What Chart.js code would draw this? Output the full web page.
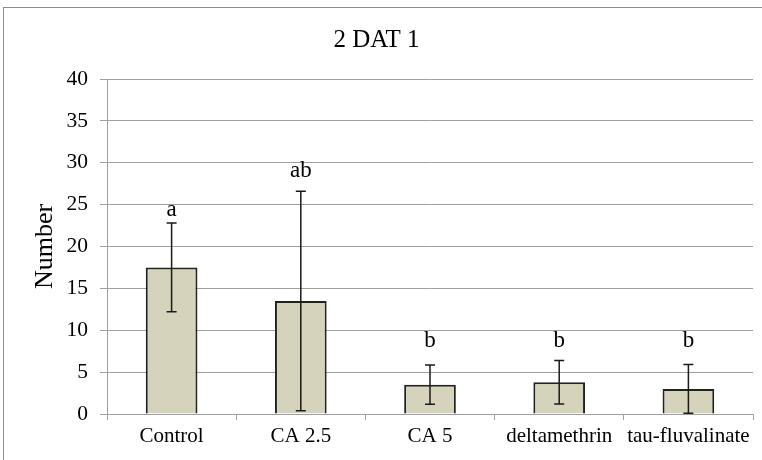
<!DOCTYPE html>
<html>
<head>
<meta charset="utf-8">
<script src="https://cdn.jsdelivr.net/npm/chart.js@4"></script>
<style>
  html, body { margin: 0; padding: 0; background: #fff; }
  #frame { position: absolute; left: 3px; top: 7px; width: 800px; height: 500px; border: 1px solid #8c8c8c; }
  #wrap { position: absolute; left: 0; top: 0; width: 762px; height: 460px; }
</style>
</head>
<body>
<div id="frame"></div>
<div id="wrap"><canvas id="chart"></canvas></div>
<script>
// Data
const categories = ['Control', 'CA 2.5', 'CA 5', 'deltamethrin', 'tau-fluvalinate'];
const means = [17.5, 13.5, 3.5, 3.8, 3.0];
const errors = [5.3, 13.1, 2.35, 2.6, 2.9];
const letters = ['a', 'ab', 'b', 'b', 'b'];
const letterY = [23.6, 28.3, 8.0, 8.0, 8.0];
const yTicks = [0, 5, 10, 15, 20, 25, 30, 35, 40];

const FONT = "'Liberation Serif', 'Times New Roman', serif";

// error bars drawn through the y scale
const errorBars = {
    id: 'errorBars',
    afterDatasetsDraw(chart) {
        const ctx = chart.ctx;
        const yScale = chart.scales.y;
        const meta = chart.getDatasetMeta(0);
        ctx.save();
        ctx.strokeStyle = '#1a1a1a';
        ctx.lineWidth = 1.5;
        meta.data.forEach((bar, i) => {
            const x = bar.x;
            const top = yScale.getPixelForValue(means[i] + errors[i]);
            const bot = yScale.getPixelForValue(Math.max(means[i] - errors[i], 0));
            ctx.beginPath();
            ctx.moveTo(x, top); ctx.lineTo(x, bot);
            ctx.moveTo(x - 5, top); ctx.lineTo(x + 5, top);
            ctx.moveTo(x - 5, bot); ctx.lineTo(x + 5, bot);
            ctx.stroke();
        });
        ctx.restore();
    }
};

// significance letters
const sigLetters = {
    id: 'sigLetters',
    afterDatasetsDraw(chart) {
        const ctx = chart.ctx;
        const yScale = chart.scales.y;
        const meta = chart.getDatasetMeta(0);
        ctx.save();
        ctx.fillStyle = '#000';
        ctx.font = '23px ' + FONT;
        ctx.textAlign = 'center';
        ctx.textBaseline = 'alphabetic';
        meta.data.forEach((bar, i) => {
            ctx.fillText(letters[i], bar.x, yScale.getPixelForValue(letterY[i]));
        });
        ctx.restore();
    }
};

new Chart(document.getElementById('chart'), {
    type: 'bar',
    data: {
        labels: categories,
        datasets: [{
            data: means,
            backgroundColor: '#d5d3bb',
            borderColor: '#222',
            borderWidth: 2,
            barPercentage: 0.4,
            categoryPercentage: 1.0
        }]
    },
    options: {
        responsive: true,
        maintainAspectRatio: false,
        animation: false,
        layout: { padding: { left: 0, right: 9, top: 0, bottom: 0 } },
        plugins: {
            legend: { display: false },
            tooltip: { enabled: false },
            title: {
                display: true,
                text: '2 DAT 1',
                color: '#000',
                font: { family: FONT, size: 25, weight: 'normal' },
                padding: { top: 25, bottom: 24 }
            }
        },
        scales: {
            x: {
                offset: true,
                grid: { display: true, drawOnChartArea: false, offset: true, tickLength: 6, color: '#a0a0a0' },
                border: { color: '#a0a0a0' },
                ticks: { color: '#000', font: { family: FONT, size: 21 }, padding: 4, maxRotation: 0, autoSkip: false },
                afterFit(s) { s.height = 46; }
            },
            y: {
                min: 0,
                max: 40,
                afterBuildTicks(s) { s.ticks = yTicks.map(v => ({ value: v })); },
                grid: { color: '#a0a0a0', tickLength: 7 },
                border: { color: '#a0a0a0' },
                ticks: { color: '#000', font: { family: FONT, size: 21.5 }, padding: 12 },
                title: { display: true, text: 'Number', color: '#000', font: { family: FONT, size: 26 }, padding: { top: 30, bottom: 0 } },
                afterFit(s) { s.width = 107; }
            }
        }
    },
    plugins: [errorBars, sigLetters]
});
</script>
</body>
</html>
